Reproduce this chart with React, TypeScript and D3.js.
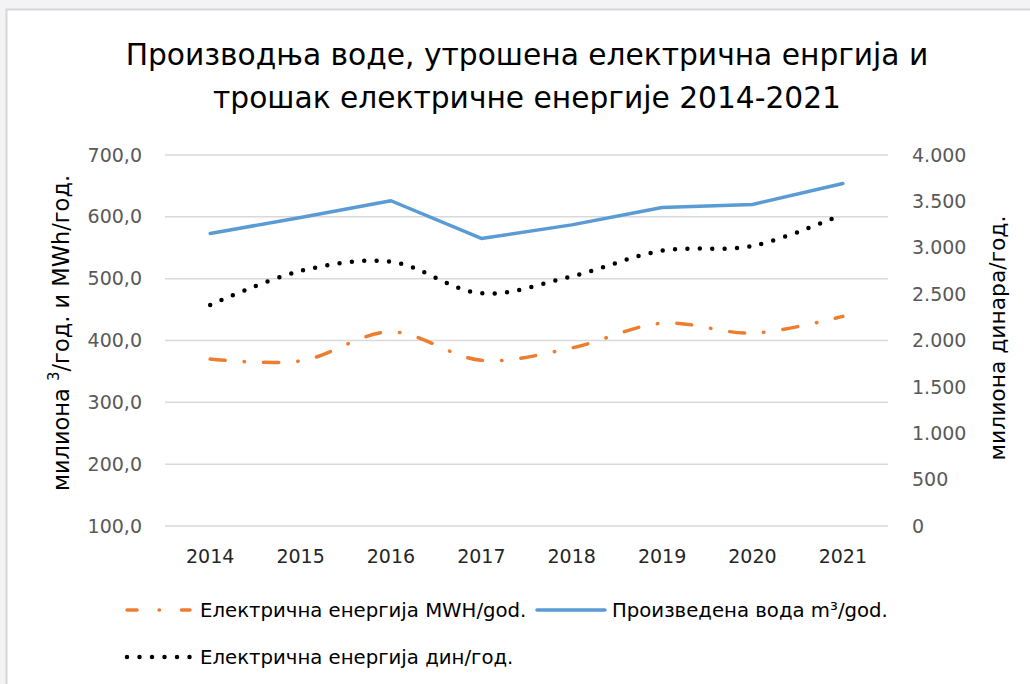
import React from 'react';
import * as d3 from 'd3';

const years = ['2014', '2015', '2016', '2017', '2018', '2019', '2020', '2021'];
const waterProduced = [573, 599, 626, 565, 587, 615, 620, 654];
const energyMWh = [370, 367, 414, 368, 388, 428, 412, 439];
const energyCost = [2383, 2750, 2850, 2509, 2692, 2968, 3019, 3361];
const leftTicks = [100, 200, 300, 400, 500, 600, 700];
const rightTicks = [0, 500, 1000, 1500, 2000, 2500, 3000, 3500, 4000];

const titleLines = [
  'Производња воде, утрошена електрична енргија и',
  'трошак електричне енергије 2014-2021',
];
const legendLabels = [
  'Електрична енергија MWH/god.',
  'Произведена вода m³/god.',
  'Електрична енергија дин/год.',
];

const ORANGE = '#ED7D31';
const BLUE = '#5B9BD5';
const BLACK = '#000000';
const FONT = '"DejaVu Sans", "Open Sans", sans-serif';

export default function App() {
  const W = 1030;
  const H = 684;
  const x = d3.scaleBand<string>().domain(years).range([165, 888]);
  const cx = (y: string) => (x(y) as number) + x.bandwidth() / 2;
  const yL = d3.scaleLinear().domain([100, 700]).range([526, 155]);
  const yR = d3.scaleLinear().domain([0, 4000]).range([526, 155]);

  const fmtL = (v: number) => d3.format('.1f')(v).replace('.', ',');
  const fmtR = (v: number) => d3.format(',')(v).replace(/,/g, '.');

  const lineBlue = d3
    .line<number>()
    .x((_, i) => cx(years[i]))
    .y((d) => yL(d))
    .curve(d3.curveLinear);
  const lineOrange = d3
    .line<number>()
    .x((_, i) => cx(years[i]))
    .y((d) => yL(d))
    .curve(d3.curveCatmullRom.alpha(0.5));
  const lineBlack = d3
    .line<number>()
    .x((_, i) => cx(years[i]))
    .y((d) => yR(d))
    .curve(d3.curveCatmullRom.alpha(0.5));

  return (
    <svg
      width={W}
      height={H}
      style={{ position: 'absolute', left: 0, top: 0, display: 'block' }}
      fontFamily={FONT}
    >
      <rect x={0} y={0} width={W} height={H} fill="#f3f3f5" />
      <rect x={6.5} y={9.5} width={W} height={H} fill="#ffffff" stroke="#d6d6d6" strokeWidth={2} />

      {/* title */}
      {titleLines.map((t, i) => (
        <text
          key={i}
          x={527}
          y={65 + i * 43}
          textAnchor="middle"
          fontSize={29.7}
          fill="#000"
        >
          {t}
        </text>
      ))}

      {/* gridlines */}
      {leftTicks.map((t) => (
        <line
          key={t}
          x1={165}
          x2={888}
          y1={yL(t)}
          y2={yL(t)}
          stroke="#d9d9d9"
          strokeWidth={1.5}
        />
      ))}

      {/* left tick labels */}
      {leftTicks.map((t) => (
        <text
          key={'l' + t}
          x={142}
          y={yL(t)}
          dy="0.35em"
          textAnchor="end"
          fontSize={19}
          fill="#595959"
        >
          {fmtL(t)}
        </text>
      ))}

      {/* right tick labels */}
      {rightTicks.map((t) => (
        <text
          key={'r' + t}
          x={912}
          y={yR(t)}
          dy="0.35em"
          textAnchor="start"
          fontSize={19}
          fill="#595959"
        >
          {fmtR(t)}
        </text>
      ))}

      {/* x labels */}
      {years.map((y) => (
        <text key={y} x={cx(y)} y={563} textAnchor="middle" fontSize={19} fill="#262626">
          {y}
        </text>
      ))}

      {/* axis titles */}
      <text
        transform="translate(69,333) rotate(-90)"
        textAnchor="middle"
        fontSize={22.5}
        fill="#000"
      >
        милиона <tspan fontSize={15} dy={-10}>3</tspan>
        <tspan dy={10}>/год. и MWh/год.</tspan>
      </text>
      <text
        transform="translate(1005,338) rotate(-90)"
        textAnchor="middle"
        fontSize={21.8}
        fill="#000"
      >
        милиона динара/год.
      </text>

      {/* series */}
      <path
        d={lineBlue(waterProduced) || ''}
        fill="none"
        stroke={BLUE}
        strokeWidth={3.5}
        strokeLinejoin="round"
        strokeLinecap="round"
      />
      <path
        d={lineOrange(energyMWh) || ''}
        fill="none"
        stroke={ORANGE}
        strokeWidth={3.5}
        strokeDasharray="15 19 0.5 19"
        strokeLinecap="round"
      />
      <path
        d={lineBlack(energyCost) || ''}
        fill="none"
        stroke={BLACK}
        strokeWidth={4.5}
        strokeDasharray="0 12.4"
        strokeLinecap="round"
      />

      {/* legend */}
      <g>
        <line x1={127} x2={190} y1={610} y2={610} stroke={ORANGE} strokeWidth={3.5} strokeDasharray="10 22 0.5 22" strokeLinecap="round" />
        <text x={200} y={610} dy="0.35em" fontSize={19.7} fill="#000">
          {legendLabels[0]}
        </text>
        <line x1={537} x2={605} y1={610} y2={610} stroke={BLUE} strokeWidth={3.5} strokeLinecap="round" />
        <text x={612} y={610} dy="0.35em" fontSize={19.7} fill="#000">
          {legendLabels[1]}
        </text>
        <line x1={127} x2={192} y1={657} y2={657} stroke={BLACK} strokeWidth={4.5} strokeDasharray="0 12.5" strokeLinecap="round" />
        <text x={200} y={657} dy="0.35em" fontSize={19.7} fill="#000">
          {legendLabels[2]}
        </text>
      </g>
    </svg>
  );
}
